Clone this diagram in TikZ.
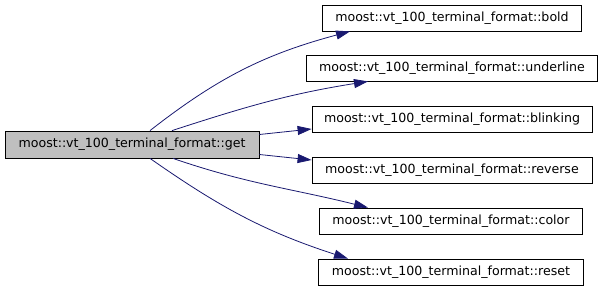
\documentclass[tikz,border=0pt]{standalone}
\usepackage{fontspec}
\setmainfont{DejaVu Sans}
\usepackage{tikz}
\usetikzlibrary{arrows.meta}
\definecolor{edgeblue}{RGB}{25,25,112}
\definecolor{callergray}{RGB}{191,191,191}

\begin{document}
\begin{tikzpicture}[x=1pt,y=1pt,
    fn/.style={draw,line width=0.8pt,fill=white,minimum height=26pt,inner xsep=0pt,font=\fontsize{12.6}{14}\selectfont},
    call/.style={draw=edgeblue,line width=0.8pt,-{Triangle[length=14pt,width=9pt,fill=edgeblue]}}]
        \useasboundingbox (0,0) rectangle (603,-291);

        \coordinate (g) at (132,-144.5);
        \coordinate (b) at (452,-18);
        \coordinate (u) at (452,-68);
        \coordinate (k) at (452,-119);
        \coordinate (r) at (452,-170);
        \coordinate (c) at (451,-221);
        \coordinate (z) at (451,-272);

        \node[fn,fill=callergray,minimum width=254pt,minimum height=27pt] (get) at (g){moost::vt\_100\_terminal\_format::get};
        \node[fn,minimum width=259pt] (bold) at (b){moost::vt\_100\_terminal\_format::bold};
        \node[fn,minimum width=291pt] (underline) at (u){moost::vt\_100\_terminal\_format::underline};
        \node[fn,minimum width=280pt] (blinking) at (k){moost::vt\_100\_terminal\_format::blinking};
        \node[fn,minimum width=280pt] (reverse) at (r){moost::vt\_100\_terminal\_format::reverse};
        \node[fn,minimum width=263pt] (color) at (c){moost::vt\_100\_terminal\_format::color};
        \node[fn,minimum width=265pt] (reset) at (z){moost::vt\_100\_terminal\_format::reset};

        \draw[call] ([xshift=18pt]get.north) to[out=38,in=195] ([xshift=-102pt]bold.south);
        \draw[call] ([xshift=40pt]get.north) to[out=18,in=189] ([xshift=-84pt]underline.south);
        \draw[call] ([yshift=10pt]get.east) -- ([yshift=-10pt]blinking.west);
        \draw[call] ([yshift=-10pt]get.east) -- ([yshift=10pt]reverse.west);
        \draw[call] ([xshift=41pt]get.south) to[out=-19,in=166] ([xshift=-83pt]color.north);
        \draw[call] ([xshift=18pt]get.south) to[out=-35,in=162] ([xshift=-103pt]reset.north);
    \end{tikzpicture}
\end{document}
